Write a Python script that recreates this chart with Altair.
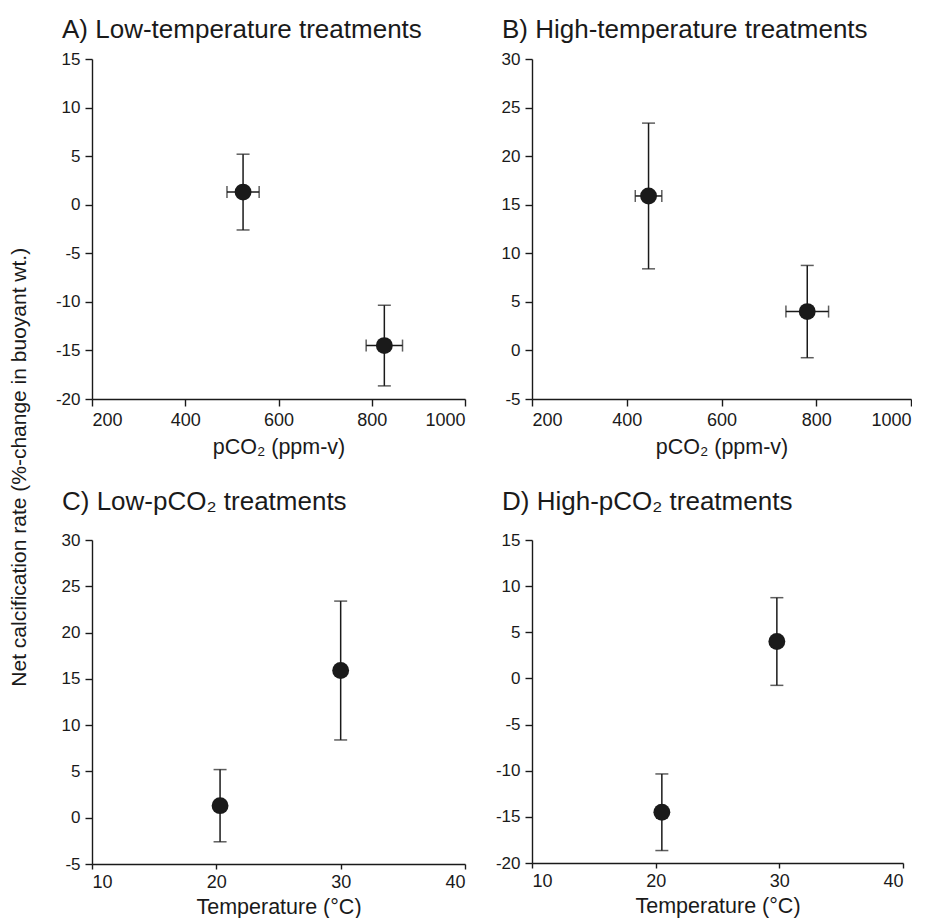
import altair as alt
import pandas as pd

# Four treatments (temperature x pCO2)
temp_level = ["low", "low", "high", "high"]
co2_level = ["low", "high", "low", "high"]
temperature = [20.3, 20.5, 30.0, 29.8]
pco2 = [524, 827, 446, 781]
pco2_se = [34.5, 39, 28, 45]
calc = [1.3, -14.5, 15.9, 4.0]
calc_se = [3.9, 4.15, 7.5, 4.75]

df = pd.DataFrame({
    "temp_level": temp_level,
    "co2_level": co2_level,
    "temperature": temperature,
    "pco2": pco2,
    "pco2_lo": [p - e for p, e in zip(pco2, pco2_se)],
    "pco2_hi": [p + e for p, e in zip(pco2, pco2_se)],
    "calc": calc,
    "calc_lo": [c - e for c, e in zip(calc, calc_se)],
    "calc_hi": [c + e for c, e in zip(calc, calc_se)],
})

FONT = "Liberation Sans"
INK = "#1a1a1a"
LABEL = "'' + datum.value"


def panel(data, xfield, xdomain, xticks, xtitle, ydomain, title, w, h, toff, xerr,
          xtick=7, xlpad=5, xtpad=7):
    base = alt.Chart(data)
    xs = alt.Scale(domain=xdomain, nice=False, zero=False)
    ys = alt.Scale(domain=ydomain, nice=False, zero=False)
    xax = alt.Axis(values=xticks, title=xtitle, labelFontSize=18, titleFontSize=21.5,
                   tickSize=xtick, labelPadding=xlpad, titlePadding=xtpad, labelExpr=LABEL)
    yax = alt.Axis(values=list(range(ydomain[0], ydomain[1] + 1, 5)), title=None,
                   labelFontSize=17, labelPadding=5, labelExpr=LABEL)

    def X(f):
        return alt.X(f, type="quantitative", scale=xs, axis=xax)

    def Y(f):
        return alt.Y(f, type="quantitative", scale=ys, axis=yax)

    layers = [
        base.mark_rule(color=INK, strokeWidth=1.5).encode(x=X(xfield), y=Y("calc_lo"), y2="calc_hi"),
        base.mark_tick(orient="horizontal", size=13, thickness=1.5, color=INK).encode(x=X(xfield), y=Y("calc_lo")),
        base.mark_tick(orient="horizontal", size=13, thickness=1.5, color=INK).encode(x=X(xfield), y=Y("calc_hi")),
    ]
    if xerr:
        layers += [
            base.mark_rule(color=INK, strokeWidth=1.5).encode(x=X("pco2_lo"), x2="pco2_hi", y=Y("calc")),
            base.mark_tick(orient="vertical", size=12, thickness=1.5, color=INK).encode(x=X("pco2_lo"), y=Y("calc")),
            base.mark_tick(orient="vertical", size=12, thickness=1.5, color=INK).encode(x=X("pco2_hi"), y=Y("calc")),
        ]
    layers.append(
        base.mark_circle(size=285, opacity=1, color=INK).encode(x=X(xfield), y=Y("calc"))
    )
    return alt.layer(*layers).properties(
        width=w, height=h,
        title=alt.TitleParams(title, anchor="start", frame="group", dx=-30, offset=toff,
                              fontSize=26, fontWeight="normal", baseline="alphabetic",
                              font=FONT, color=INK),
    )


low_t = df[df.temp_level == "low"]
high_t = df[df.temp_level == "high"]
low_c = df[df.co2_level == "low"]
high_c = df[df.co2_level == "high"]

pa = panel(low_t, "pco2", [200, 1000], [200, 400, 600, 800, 1000], "pCO₂ (ppm-v)",
           [-20, 15], "A) Low-temperature treatments", 373, 340, -14, True)
pb = panel(high_t, "pco2", [200, 1000], [200, 400, 600, 800, 1000], "pCO₂ (ppm-v)",
           [-5, 30], "B) High-temperature treatments", 379, 340, -14, True)
pc = panel(low_c, "temperature", [10, 40], [10, 20, 30, 40], "Temperature (°C)",
           [-5, 30], "C) Low-pCO₂ treatments", 373, 324, -5, False,
           xtick=5, xlpad=4, xtpad=5)
pd_ = panel(high_c, "temperature", [10, 40], [10, 20, 30, 40], "Temperature (°C)",
            [-20, 15], "D) High-pCO₂ treatments", 371, 323, -5, False,
            xtick=5, xlpad=4, xtpad=5)

chart = alt.concat(pa, pb, pc, pd_, columns=2, spacing={"row": 31, "column": 29}).properties(
    title=alt.TitleParams("Net calcification rate (%-change in buoyant wt.)", orient="left",
                          anchor="middle", fontSize=21, fontWeight="normal", offset=25,
                          font=FONT, color=INK),
    padding={"left": 1, "top": 9, "right": 0, "bottom": 0},
).configure_view(stroke=None).configure_axis(
    domainColor=INK, domainWidth=1.4, tickColor=INK, tickWidth=1.4, tickSize=7,
    grid=False, labelColor=INK, titleColor=INK, labelFont=FONT, titleFont=FONT,
    titleFontWeight="normal",
)

chart.save("out.html", embed_options={"renderer": "svg", "actions": False})
